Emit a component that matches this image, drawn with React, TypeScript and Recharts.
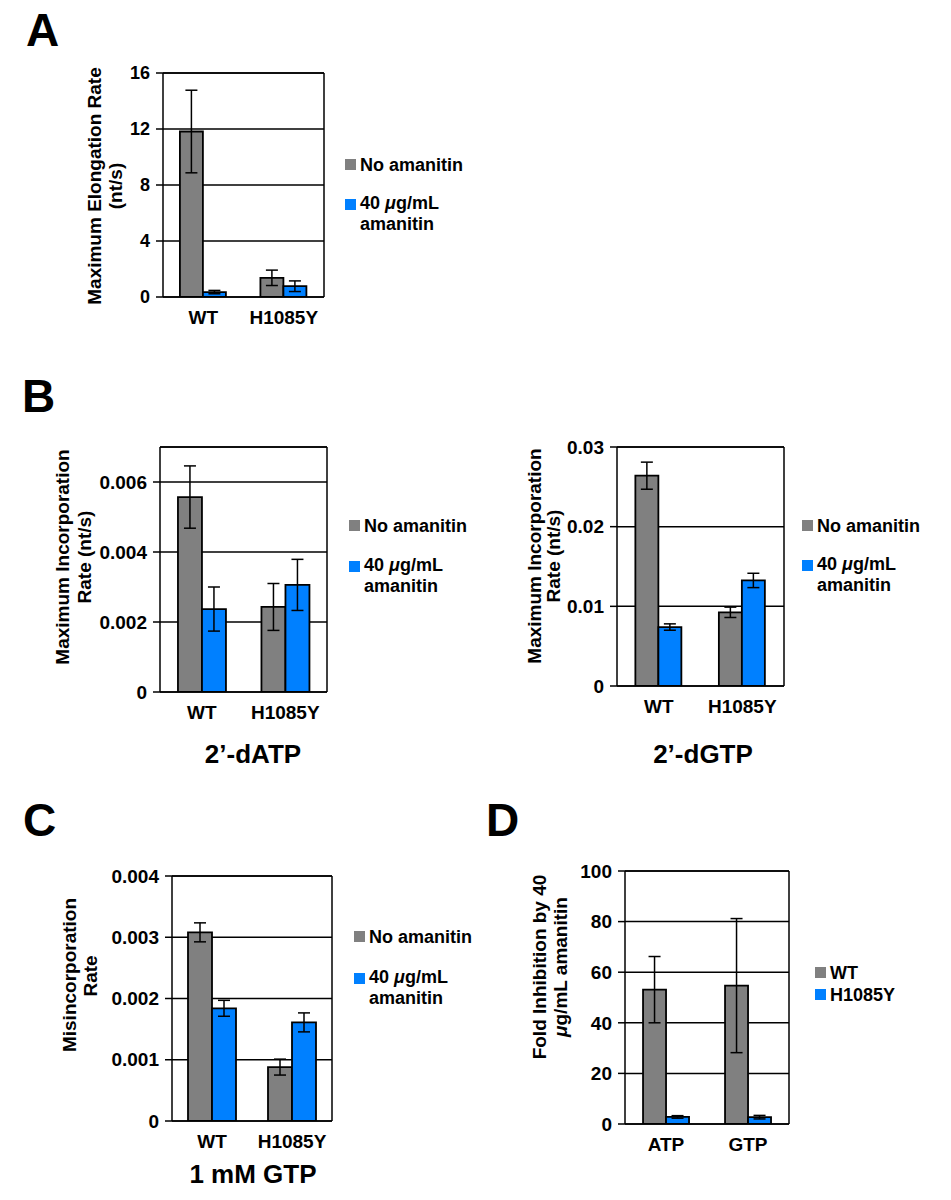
import React from 'react';
import { BarChart, Bar, XAxis, YAxis, CartesianGrid, ErrorBar } from 'recharts';

const FONT = '"Liberation Sans", Arial, Helvetica, sans-serif';
const GRAY = '#808080';
const BLUE = '#0080ff';
const INK = '#000';

// categories
const strainCats = ['WT', 'H1085Y'];
const nucCats = ['ATP', 'GTP'];

// A: max elongation rate (nt/s)
const aNoAman = [11.82, 1.37];
const aNoAmanErr = [2.95, 0.55];
const aAman = [0.35, 0.77];
const aAmanErr = [0.12, 0.38];
const aTicks = [0, 4, 8, 12, 16];

// B left: 2'-dATP incorporation
const bdaNoAman = [0.00557, 0.00243];
const bdaNoAmanErr = [0.00089, 0.00067];
const bdaAman = [0.00237, 0.00306];
const bdaAmanErr = [0.00063, 0.00073];
const bdaTicks = [0, 0.002, 0.004, 0.006];
const bdaMax = 0.007;

// B right: 2'-dGTP incorporation
const bdgNoAman = [0.0264, 0.00925];
const bdgNoAmanErr = [0.0017, 0.00065];
const bdgAman = [0.0074, 0.01325];
const bdgAmanErr = [0.0004, 0.0009];
const bdgTicks = [0, 0.01, 0.02, 0.03];

// C: misincorporation, 1 mM GTP
const cNoAman = [0.00308, 0.00088];
const cNoAmanErr = [0.000155, 0.00013];
const cAman = [0.00184, 0.00161];
const cAmanErr = [0.00013, 0.000155];
const cTicks = [0, 0.001, 0.002, 0.003, 0.004];

// D: fold inhibition by 40 ug/mL amanitin
const dWT = [53.1, 54.7];
const dWTErr = [13.1, 26.5];
const dMut = [2.8, 2.7];
const dMutErr = [0.5, 0.7];
const dTicks = [0, 20, 40, 60, 80, 100];

const amanitinSeries = [
  { name: ['No amanitin'], color: GRAY },
  { name: ['40 μg/mL', 'amanitin'], color: BLUE },
];
const strainSeries = [
  { name: ['WT'], color: GRAY },
  { name: ['H1085Y'], color: BLUE },
];

function rows(cats: string[], v0: number[], e0: number[], v1: number[], e1: number[]) {
  return cats.map((cat, i) => ({ cat, s0: v0[i], e0: e0[i], s1: v1[i], e1: e1[i] }));
}

const line = { stroke: INK, strokeWidth: 1.5 };

interface PanelProps {
  box: { x: number; y: number; w: number; h: number };
  data: ReturnType<typeof rows>;
  colors: string[];
  ticks: number[];
  max: number;
  gap: string;
  fs?: number;
}

function Panel({ box, data, colors, ticks, max, gap, fs = 19 }: PanelProps) {
  const yw = 80;
  const edges = data.map((_, i) => i).concat(data.length);
  const tickFont = { fill: INK, fontSize: fs, fontWeight: 700, fontFamily: FONT };
  // 1px thin axes: top border, right border, two bottom axes
  return (
    <div style={{ position: 'absolute', left: box.x - yw, top: box.y - 10 }}>
      <BarChart
        width={yw + box.w + 10 + 1}
        height={box.h + 60}
        data={data}
        margin={{ top: 9, right: 10, bottom: 49, left: 0 }}
        barCategoryGap={gap}
        barGap={0}
      >
        <CartesianGrid vertical={false} stroke={INK} strokeWidth={1.5} />
        <XAxis
          dataKey="cat"
          height={1}
          interval={0}
          axisLine={line}
          tickLine={false}
          tickSize={6}
          tickMargin={8}
          tick={{ ...tickFont, fontSize: 19 }}
        />
        <XAxis
          xAxisId="edges"
          type="number"
          domain={[0, data.length]}
          ticks={edges}
          allowDataOverflow
          height={1}
          axisLine={false}
          tick={false}
          tickLine={line}
          tickSize={6}
        />
        <XAxis xAxisId="top" orientation="top" height={1} axisLine={line} tick={false} tickLine={false} />
        <YAxis
          width={yw}
          domain={[0, max]}
          ticks={ticks}
          interval={0}
          allowDataOverflow
          axisLine={line}
          tickLine={line}
          tickSize={7}
          tickMargin={6}
          tick={tickFont}
        />
        <YAxis
          yAxisId="right"
          orientation="right"
          width={1}
          domain={[0, max]}
          axisLine={line}
          tick={false}
          tickLine={false}
        />
        <Bar dataKey="s0" fill={colors[0]} stroke={INK} strokeWidth={1.8} isAnimationActive={false}>
          <ErrorBar dataKey="e0" width={6} stroke={INK} strokeWidth={1.5} direction="y" />
        </Bar>
        <Bar dataKey="s1" fill={colors[1]} stroke={INK} strokeWidth={1.8} isAnimationActive={false}>
          <ErrorBar dataKey="e1" width={6} stroke={INK} strokeWidth={1.5} direction="y" />
        </Bar>
      </BarChart>
    </div>
  );
}

function MuText({ text }: { text: string }) {
  // italic micro sign, as in the figure
  const parts = text.split('μ');
  if (parts.length === 1) return <>{text}</>;
  return (
    <>
      {parts[0]}
      <tspan fontStyle="italic">μ</tspan>
      {parts[1]}
    </>
  );
}

function SvgLegend({
  x,
  tops,
  items,
}: {
  x: number;
  tops: number[];
  items: { name: string[]; color: string }[];
}) {
  return (
    <g fontSize={18}>
      {items.map((it, i) => {
        const first = it.name.length > 1 ? tops[i] + 10 : tops[i] + 12;
        return (
          <g key={it.name.join(' ')}>
            <rect x={x} y={tops[i]} width={11} height={11} fill={it.color} />
            {it.name.map((l, j) => (
              <text key={l} x={x + 15} y={first + j * 21}>
                <MuText text={l} />
              </text>
            ))}
          </g>
        );
      })}
    </g>
  );
}

function VLabel({ bx, cy, children }: { bx: number; cy: number; children: React.ReactNode }) {
  return (
    <text x={bx} y={cy} textAnchor="middle" transform={`rotate(-90 ${bx} ${cy})`}>
      {children}
    </text>
  );
}

export default function App() {
  return (
    <div style={{ position: 'absolute', left: 0, top: 0, width: 951, height: 1200, background: '#fff' }}>
      <Panel
        box={{ x: 163, y: 73, w: 161, h: 225 }}
        data={rows(strainCats, aNoAman, aNoAmanErr, aAman, aAmanErr)}
        colors={[GRAY, BLUE]}
        ticks={aTicks}
        max={16}
        gap="21%"
        fs={18}
      />
      <Panel
        box={{ x: 160, y: 447, w: 167, h: 246 }}
        data={rows(strainCats, bdaNoAman, bdaNoAmanErr, bdaAman, bdaAmanErr)}
        colors={[GRAY, BLUE]}
        ticks={bdaTicks}
        max={bdaMax}
        gap="21.5%"
      />
      <Panel
        box={{ x: 617, y: 447, w: 167, h: 240 }}
        data={rows(strainCats, bdgNoAman, bdgNoAmanErr, bdgAman, bdgAmanErr)}
        colors={[GRAY, BLUE]}
        ticks={bdgTicks}
        max={0.03}
        gap="22%"
      />
      <Panel
        box={{ x: 172, y: 876, w: 160, h: 246 }}
        data={rows(strainCats, cNoAman, cNoAmanErr, cAman, cAmanErr)}
        colors={[GRAY, BLUE]}
        ticks={cTicks}
        max={0.004}
        gap="20%"
      />
      <Panel
        box={{ x: 625, y: 871, w: 164, h: 254 }}
        data={rows(nucCats, dWT, dWTErr, dMut, dMutErr)}
        colors={[GRAY, BLUE]}
        ticks={dTicks}
        max={100}
        gap="22%"
      />
      <svg
        width={951}
        height={1200}
        style={{ position: 'absolute', left: 0, top: 0, pointerEvents: 'none' }}
        fontFamily={FONT}
        fontWeight={700}
        fontSize={19}
        fill={INK}
      >
        <g fontSize={46}>
          <text x={26} y={46}>A</text>
          <text x={22} y={412}>B</text>
          <text x={23} y={836}>C</text>
          <text x={486} y={836}>D</text>
        </g>
        <g fontSize={26} textAnchor="middle">
          <text x={253} y={763}>2’-dATP</text>
          <text x={703} y={763}>2’-dGTP</text>
          <text x={253} y={1183}>1 mM GTP</text>
        </g>

        <VLabel bx={101} cy={186}>Maximum Elongation Rate</VLabel>
        <VLabel bx={122} cy={186}>(nt/s)</VLabel>
        <VLabel bx={69} cy={557}>Maximum Incorporation</VLabel>
        <VLabel bx={91} cy={557}>Rate (nt/s)</VLabel>
        <VLabel bx={541} cy={556}>Maximum Incorporation</VLabel>
        <VLabel bx={560} cy={556}>Rate (nt/s)</VLabel>
        <VLabel bx={76} cy={975}>Misincorporation</VLabel>
        <VLabel bx={97} cy={976}>Rate</VLabel>
        <VLabel bx={546} cy={967}>Fold Inhibition by 40</VLabel>
        <VLabel bx={567} cy={967}>
          <MuText text="μg/mL amanitin" />
        </VLabel>

        <SvgLegend x={345} tops={[159, 199]} items={amanitinSeries} />
        <SvgLegend x={349} tops={[520, 561]} items={amanitinSeries} />
        <SvgLegend x={802} tops={[520, 560]} items={amanitinSeries} />
        <SvgLegend x={354} tops={[931, 973]} items={amanitinSeries} />
        <SvgLegend x={815} tops={[967, 989]} items={strainSeries} />
      </svg>
    </div>
  );
}
